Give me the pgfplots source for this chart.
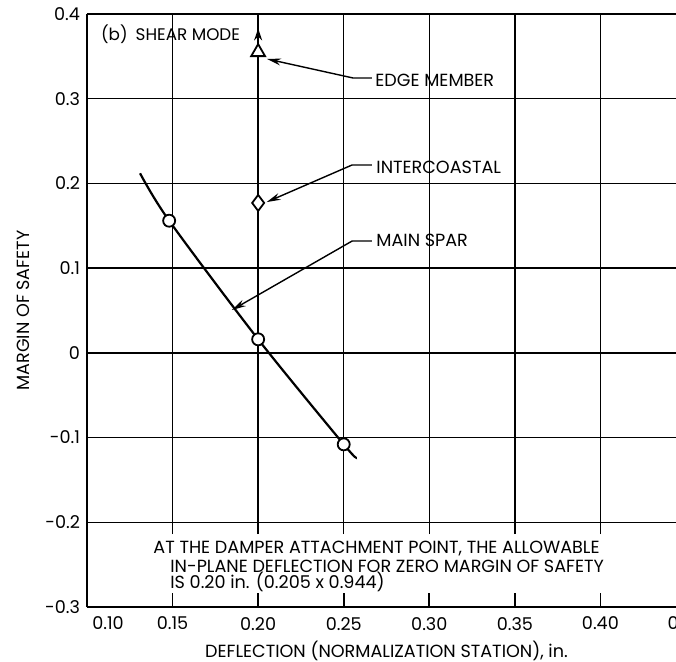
\documentclass[border=0pt]{standalone}
\usepackage{fontspec}
\setmainfont{Poppins}
\usepackage{pgfplots}
\pgfplotsset{compat=1.18}
\usetikzlibrary{arrows.meta,calc}

\begin{document}
\begin{tikzpicture}[font=\fontsize{8.8}{10}\selectfont]
\begin{axis}[
  scale only axis,
  width=299.5pt, height=296.5pt,
  xmin=0.10, xmax=0.45,
  ymin=-0.3, ymax=0.4,
  axis x line*=bottom, axis y line*=left,
  axis line style={line width=1.2pt,-},
  xtick={0.10,0.15,0.20,0.25,0.30,0.35,0.40,0.45},
  xticklabels={\hspace{21pt}0.10,0.15,0.20,0.25,0.30,0.35,0.40,0.45},
  ytick={-0.3,-0.2,-0.1,0,0.1,0.2,0.3,0.4},
  yticklabels={-0.3,-0.2,-0.1,0,0.1,0.2,0.3,0.4},
  ymajorgrids,
  major grid style={black,line width=0.75pt},
  major tick length=7pt,
  tick align=inside,
  xtick style={black,line width=0.8pt},
  ytick style={draw=none},
  xticklabel style={yshift=-1.5pt},
  xlabel={DEFLECTION (NORMALIZATION STATION), in.},
  ylabel={MARGIN OF SAFETY},
  xlabel style={at={(axis description cs:0.5,0)},anchor=center,yshift=-22pt},
  ylabel style={at={(axis description cs:0,0.5)},anchor=center,yshift=32pt},
  clip=false,
]
\coordinate (O) at (rel axis cs:0,0);
% vertical grid lines stop a little under -0.2
\pgfplotsinvokeforeach{0.15,0.20,0.25,0.30,0.35,0.40}{
  \draw[black,line width=0.75pt] (#1,-0.214) -- (#1,0.4);
}

% main spar
\addplot[black,line width=1.1pt,smooth] coordinates {
  (0.131,0.212) (0.148,0.156) (0.20,0.016) (0.25,-0.108) (0.257,-0.123)};
\addplot[only marks,mark=*,mark size=3pt,
  mark options={fill=white,draw=black,line width=0.9pt}] coordinates {
  (0.148,0.156) (0.20,0.016) (0.25,-0.108)};
% intercoastal
\addplot[only marks,mark=diamond*,mark size=4pt,
  mark options={fill=white,draw=black,line width=0.9pt}] coordinates {(0.20,0.177)};
% edge member
\addplot[only marks,mark=triangle*,mark size=4pt,
  mark options={fill=white,draw=black,line width=0.9pt}] coordinates {(0.20,0.355)};
\draw[line width=0.8pt,-{Stealth[length=6pt,width=4pt]}] (0.20,0.363) -- (0.20,0.383);

% leaders and labels
\draw[line width=0.7pt,-{Stealth[length=7pt,width=3.5pt]}]
  (0.2665,0.3245) -- (0.2554,0.3245) -- (0.2052,0.3469);
\node[anchor=base west,inner sep=0pt] at (0.2683,0.315) {EDGE MEMBER};
\draw[line width=0.7pt,-{Stealth[length=7pt,width=3.5pt]}]
  (0.2665,0.2218) -- (0.2549,0.2218) -- (0.2050,0.178);
\node[anchor=base west,inner sep=0pt] at (0.2689,0.2123) {INTERCOASTAL};
\draw[line width=0.7pt,-{Stealth[length=7pt,width=3.5pt]}]
  (0.2665,0.132) -- (0.2549,0.132) -- (0.1847,0.0506);
\node[anchor=base west,inner sep=0pt] at (0.2689,0.125) {MAIN SPAR};
\node[anchor=base west,inner sep=0pt,font=\fontsize{8.4}{10}\selectfont] at (0.1080,0.3693) {(b)\hspace{4pt}SHEAR MODE};

\node[anchor=base west,inner sep=0pt] at (0.1386,-0.2374) {AT THE DAMPER ATTACHMENT POINT, THE ALLOWABLE};
\node[anchor=base west,inner sep=0pt] at (0.1485,-0.2587) {IN-PLANE DEFLECTION FOR ZERO MARGIN OF SAFETY};
\node[anchor=base west,inner sep=0pt] at (0.1485,-0.2787) {IS 0.20 in. (0.205 x 0.944)};
\end{axis}
\pgfresetboundingbox
\useasboundingbox ($(O)+(-43.5pt,-27pt)$) rectangle ($(O)+(294.5pt,303.5pt)$);
\end{tikzpicture}
\end{document}
